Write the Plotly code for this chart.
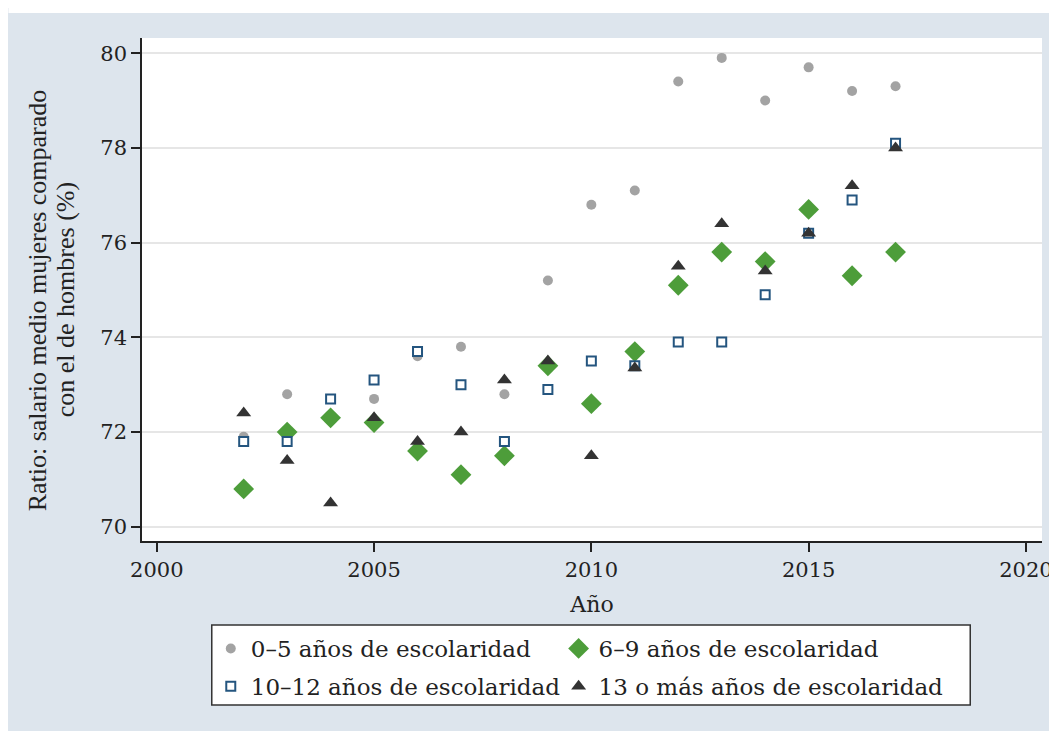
import plotly.graph_objects as go

years = list(range(2002, 2018))
s_0_5 = [71.9, 72.8, 72.3, 72.7, 73.6, 73.8, 72.8, 75.2, 76.8, 77.1, 79.4, 79.9, 79.0, 79.7, 79.2, 79.3]
s_6_9 = [70.8, 72.0, 72.3, 72.2, 71.6, 71.1, 71.5, 73.4, 72.6, 73.7, 75.1, 75.8, 75.6, 76.7, 75.3, 75.8]
s_10_12 = [71.8, 71.8, 72.7, 73.1, 73.7, 73.0, 71.8, 72.9, 73.5, 73.4, 73.9, 73.9, 74.9, 76.2, 76.9, 78.1]
s_13p = [72.4, 71.4, 70.5, 72.3, 71.8, 72.0, 73.1, 73.5, 71.5, 73.35, 75.5, 76.4, 75.4, 76.2, 77.2, 78.0]

names = ["0\u20135 años de escolaridad", "6\u20139 años de escolaridad",
         "10\u201312 años de escolaridad", "13 o más años de escolaridad"]
y_title_lines = ["Ratio: salario medio mujeres comparado", "con el de hombres (%)"]
x_ticks = [2000, 2005, 2010, 2015, 2020]
y_ticks = [70, 72, 74, 76, 78, 80]

BG = "#dde5ed"
fig = go.Figure()
fig.add_trace(go.Scatter(x=years, y=s_0_5, mode="markers", name=names[0], legend="legend",
                         legendgroup="a",
                         marker=dict(symbol="circle", size=10, color="#a3a3a3")))
fig.add_trace(go.Scatter(x=years, y=s_6_9, mode="markers", name=names[1], legend="legend2",
                         legendgroup="b",
                         marker=dict(symbol="diamond", size=16, color="#4d9d3a")))
fig.add_trace(go.Scatter(x=years, y=s_10_12, mode="markers", name=names[2], legend="legend",
                         legendgroup="c",
                         marker=dict(symbol="square", size=9, color="white",
                                     line=dict(color="#24557f", width=2))))
fig.add_trace(go.Scatter(x=years, y=s_13p, mode="markers", name=names[3], legend="legend2",
                         legendgroup="d",
                         marker=dict(symbol="triangle-up", size=13, color="#333333")))

serif = "DejaVu Serif"
L, R, T, B = 134, 20, 30, 198
PW, PH = 1057 - L - R, 731 - T - B


def px_x(v):
    return (v - L) / PW


def px_y(v):
    return (T + PH - v) / PH


leg_common = dict(orientation="v", yanchor="top", y=px_y(619), xanchor="left",
                  bgcolor="rgba(0,0,0,0)", borderwidth=0,
                  font=dict(family=serif, size=23, color="#222222"),
                  traceorder="grouped", tracegroupgap=5, itemsizing="trace")

fig.update_layout(
    width=1057, height=731,
    paper_bgcolor=BG, plot_bgcolor="white",
    margin=dict(l=L, r=R, t=T, b=B),
    showlegend=True,
    legend=dict(x=px_x(203), **leg_common),
    legend2=dict(x=px_x(552), **leg_common),
    xaxis=dict(range=[1999.66, 2020.37], tickvals=x_ticks, showgrid=False,
               showline=True, linecolor="#222222", linewidth=1.5,
               ticks="outside", ticklen=9, tickcolor="#222222", tickwidth=1.5,
               tickfont=dict(family=serif, size=21, color="#222222"),
               title=dict(text="Año", font=dict(family=serif, size=22, color="#222222"), standoff=16),
               zeroline=False),
    yaxis=dict(range=[69.7, 80.32], tickvals=y_ticks, showgrid=True, gridcolor="#e6e6e6",
               gridwidth=1.5, showline=True, linecolor="#222222", linewidth=1.5,
               ticks="outside", ticklen=9, tickcolor="#222222", tickwidth=1.5,
               tickfont=dict(family=serif, size=21, color="#222222"),
               zeroline=False),
)
# y-axis title as two rotated lines (tighter line spacing)
for xpx, line in zip([29, 57], y_title_lines):
    fig.add_annotation(text=line, textangle=-90, xref="paper", yref="paper",
                       x=px_x(xpx), y=px_y(292), xanchor="center", yanchor="middle",
                       showarrow=False,
                       font=dict(family="Liberation Serif", size=26, color="#222222"))
# thin white strip at the top of the image
fig.add_shape(type="rect", xref="paper", yref="paper", x0=-L / PW, x1=1 + R / PW,
              y0=px_y(5), y1=px_y(0), fillcolor="white", line_width=0, layer="below")
# legend box
fig.add_shape(type="rect", xref="paper", yref="paper", x0=px_x(204), x1=px_x(965),
              y0=px_y(697), y1=px_y(617), fillcolor="white",
              line=dict(color="#333333", width=1.5), layer="below")

fig.write_html("out.html")
